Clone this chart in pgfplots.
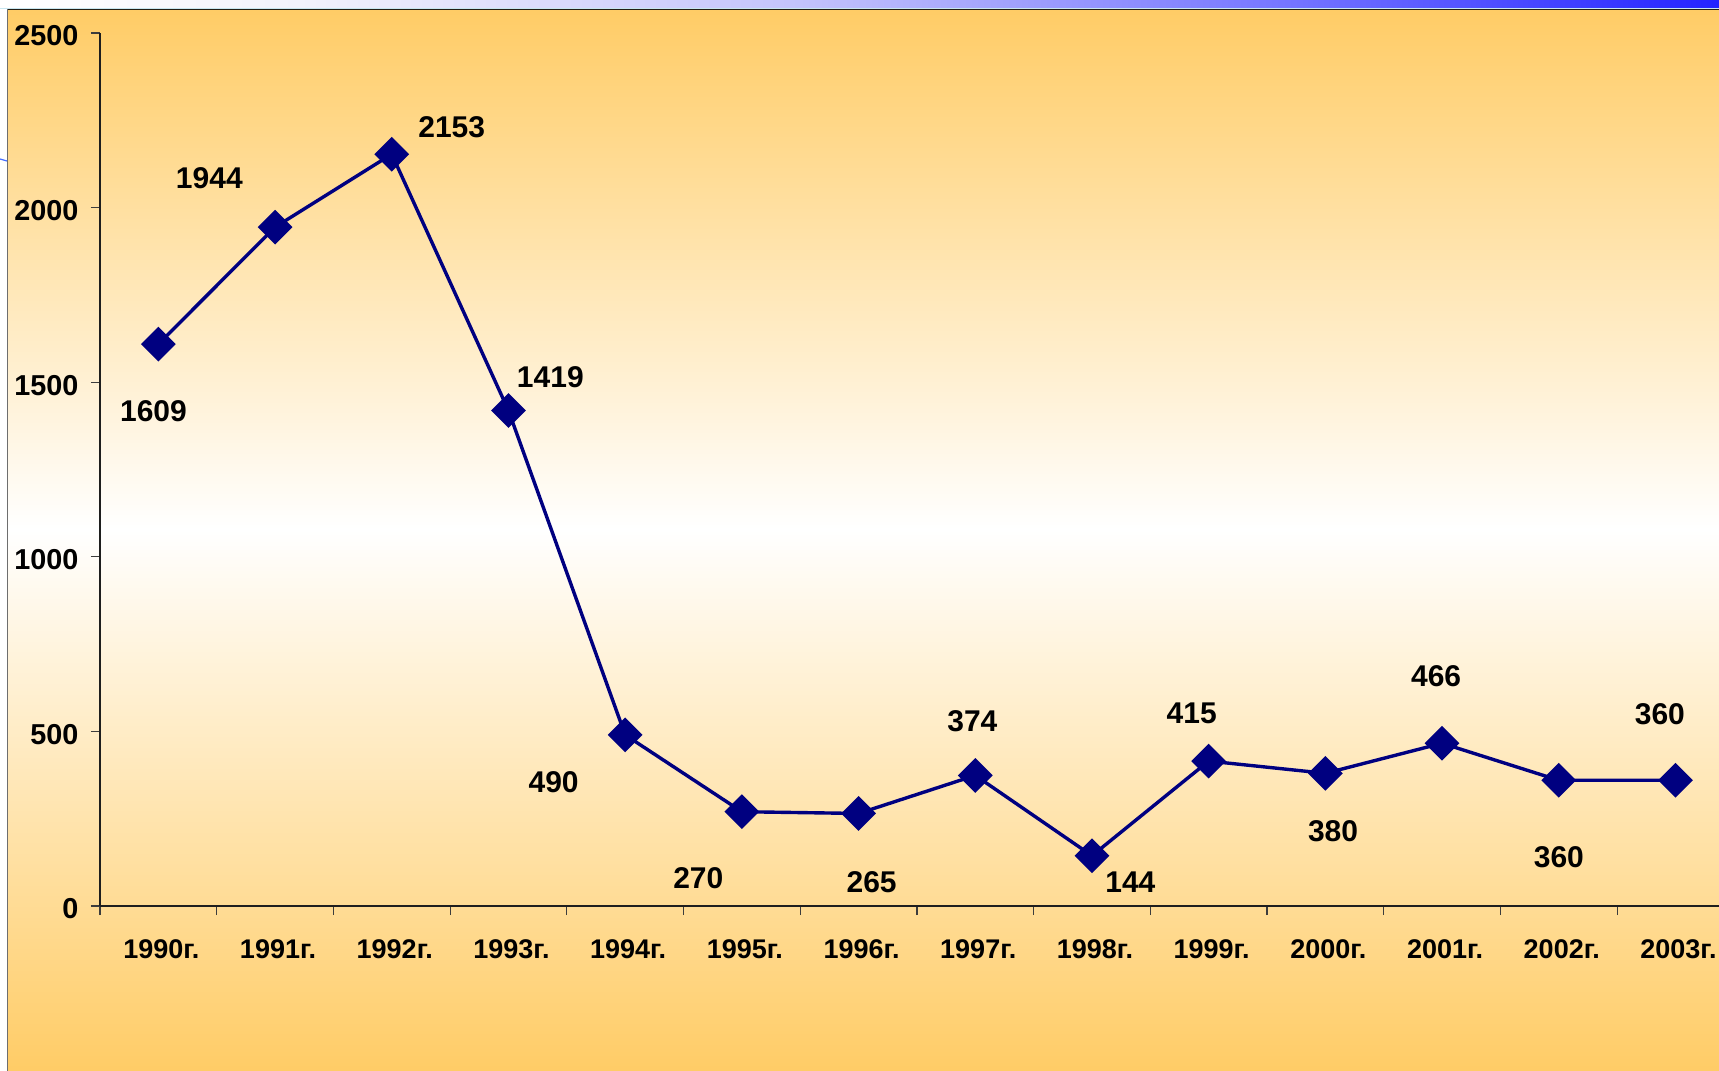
\documentclass[border=0pt]{standalone}
\usepackage{pgfplots}
\pgfplotsset{compat=1.18}
\usepackage{fontspec}
\setmainfont{Liberation Sans}
\definecolor{orbg}{RGB}{255,204,102}
\definecolor{navyline}{RGB}{0,0,128}
\definecolor{tb0}{RGB}{255,255,255}
\definecolor{tb1}{RGB}{242,242,252}
\definecolor{tb2}{RGB}{195,195,252}
\definecolor{tb3}{RGB}{115,115,255}
\definecolor{tb4}{RGB}{35,35,255}
\pgfdeclarehorizontalshading{topbar}{100bp}{color(0bp)=(tb0); color(25bp)=(tb0); color(33.7bp)=(tb1); color(48.25bp)=(tb2); color(62.8bp)=(tb3); color(75bp)=(tb4); color(100bp)=(tb4)}
\pgfdeclareverticalshading{chartbg}{100bp}{color(0bp)=(orbg); color(25bp)=(orbg); color(50.5bp)=(white); color(75bp)=(orbg); color(100bp)=(orbg)}
\pgfplotstableread{
x y
0 1609
1 1944
2 2153
3 1419
4 490
5 270
6 265
7 374
8 144
9 415
10 380
11 466
12 360
13 360
}\datatable
\pgfplotstableread{
x y lab
-0.042 1417 1609
0.437 2083 1944
2.514 2230 2153
3.359 1515 1419
3.387 356 490
4.627 80 270
6.112 67 265
6.975 529 374
8.329 67 144
8.855 551 415
10.066 215 380
10.949 658 466
12.001 140 360
12.866 548 360
}\labeltable
\begin{document}
\begin{tikzpicture}
\path[use as bounding box, clip] (0,0) rectangle (859.5pt,535.5pt);
\fill[white] (0,0) rectangle (859.5pt,535.5pt);
\shade[shading=topbar] (0,531.7pt) rectangle (859.5pt,535.5pt);
\draw[color={rgb,255:red,200;green,230;blue,240}, line width=0.5pt] (0,531.4pt) -- (859.5pt,531.4pt);
\shade[shading=chartbg] (4pt,0) rectangle (859.5pt,530.8pt);
\draw[color={rgb,255:red,35;green,30;blue,20}, line width=0.8pt] (3.5pt,530.8pt) -- (859.5pt,530.8pt);
\draw[color={rgb,255:red,110;green,110;blue,110}, line width=0.7pt] (3.8pt,0) -- (3.8pt,531pt);
\draw[color={rgb,255:red,70;green,110;blue,255}, line width=0.6pt] (0,456pt) -- (3.5pt,455pt);
\begin{axis}[
  at={(50pt,82.5pt)}, anchor=south west,
  scale only axis, width=809.5pt, height=436.5pt,
  xmin=-0.5, xmax=13.373, ymin=0, ymax=2500,
  axis x line*=bottom, axis y line*=left,
  axis line style={line width=0.6pt, color={rgb,255:red,30;green,30;blue,30}, -},
  tick style={line width=0.6pt, color={rgb,255:red,60;green,60;blue,60}},
  tick align=outside,
  major tick length=4.6pt,
  ytick={0,500,...,2500},
  xtick={-0.5,0.5,...,12.5},
  xticklabels={},
  extra x ticks={0,1,...,13},
  extra x tick labels={1990г.,1991г.,1992г.,1993г.,1994г.,1995г.,1996г.,1997г.,1998г.,1999г.,2000г.,2001г.,2002г.,2003г.},
  extra x tick style={major tick length=0pt},
  /pgf/number format/assume math mode=true,
  /pgf/number format/1000 sep={},
  tick label style={font=\fontsize{13.5}{16}\selectfont\bfseries, text=black},
  yticklabel style={anchor=east, inner sep=0pt, xshift=-6pt, yshift=-1.5pt, font=\fontsize{14.4}{17}\selectfont\bfseries},
  xticklabel style={anchor=base, inner sep=0pt, yshift=-26.5pt, xshift=1.5pt},
  clip=false,
]
\addplot[color=navyline, line width=1.7pt, mark=square*, mark size=5.3pt, mark options={rotate=45, solid, fill=navyline}] table[x=x, y=y] {\datatable};
\addplot[draw=none, mark=none, nodes near coords, point meta=explicit symbolic,
  every node near coord/.append style={anchor=center, inner sep=0pt, font=\fontsize{15}{18}\selectfont\bfseries, text=black}]
  table[x=x, y=y, meta=lab] {\labeltable};
\end{axis}
\end{tikzpicture}
\end{document}
